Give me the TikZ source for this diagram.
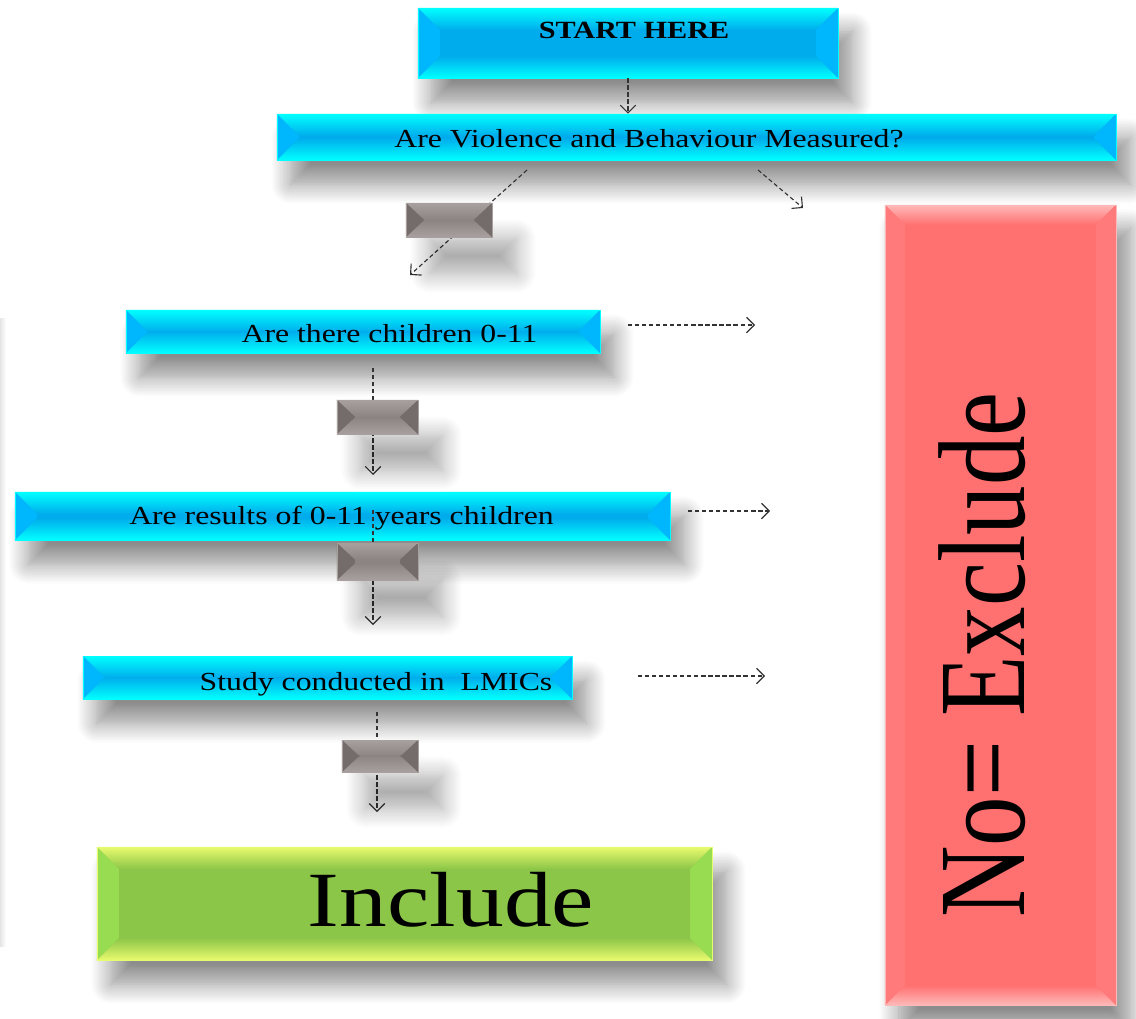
\documentclass[tikz,border=0pt]{standalone}
\usepackage{fontspec}
\setmainfont{Liberation Serif}[FakeStretch=1.22]
\newfontfamily\exfont{Liberation Serif}[FakeStretch=0.8]
\usetikzlibrary{calc,arrows.meta,shadows.blur}

\definecolor{cyanface}{RGB}{0,172,236}
\definecolor{cyanedge}{RGB}{0,255,255}
\definecolor{cyanside}{RGB}{0,182,252}
\definecolor{greenface}{RGB}{140,198,72}
\definecolor{greenedge}{RGB}{232,250,110}
\definecolor{greenside}{RGB}{152,220,82}
\definecolor{redface}{RGB}{255,112,112}
\definecolor{rededge}{RGB}{255,185,185}
\definecolor{redside}{RGB}{255,122,122}
\definecolor{greyface}{RGB}{140,132,130}
\definecolor{greyedge}{RGB}{168,160,158}
\definecolor{greyside}{RGB}{116,108,106}

\tikzset{
  bevel/.style n args={5}{fill=#1, path picture={
    \coordinate (bnw) at (path picture bounding box.north west);
    \coordinate (bne) at (path picture bounding box.north east);
    \coordinate (bsw) at (path picture bounding box.south west);
    \coordinate (bse) at (path picture bounding box.south east);
    \shade[top color=#2, bottom color=#1] (bnw) -- (bne) -- ($(bne)+(-#4,-#5)$) -- ($(bnw)+(#4,-#5)$) -- cycle;
    \shade[bottom color=#2, top color=#1] (bsw) -- (bse) -- ($(bse)+(-#4,#5)$) -- ($(bsw)+(#4,#5)$) -- cycle;
    \fill[#3] (bnw) -- (bsw) -- ($(bsw)+(#4,#5)$) -- ($(bnw)+(#4,-#5)$) -- cycle;
    \fill[#3] (bne) -- (bse) -- ($(bse)+(-#4,#5)$) -- ($(bne)+(-#4,-#5)$) -- cycle;
  }},
  box/.style={rectangle, inner sep=0pt, line width=.4pt,
    blur shadow={shadow xshift=.35cm, shadow yshift=-.6cm, shadow blur radius=.5cm,
      shadow blur steps=14, shadow opacity=45}},
  cyanbox/.style={box, draw=cyanedge, bevel={cyanface}{cyanedge}{cyanside}{.55cm}{.55cm}},
  greenbox/.style={box, draw=greenedge, bevel={greenface}{greenedge}{greenside}{.55cm}{.55cm}},
  redbox/.style={box, draw=rededge, bevel={redface}{rededge}{redside}{.5cm}{.5cm}},
  greybox/.style={rectangle, inner sep=0pt, draw=greyedge, line width=.4pt,
    bevel={greyface}{greyedge}{greyside}{.45cm}{.42cm},
    blur shadow={shadow xshift=.6cm, shadow yshift=-.9cm, shadow blur radius=.5cm,
      shadow blur steps=14, shadow opacity=35}},
  txt/.style={inner sep=0pt, text depth=0pt, font=\fontsize{18.5}{20}\selectfont},
  link/.style={black!80, line width=.8pt, dash pattern=on 3pt off 2pt,
    -{Straight Barb[length=5.5pt,width=11pt]}}
}

\begin{document}
\begin{tikzpicture}[x=0.025cm,y=-0.025cm]
\useasboundingbox (0,0) rectangle (1136,1018);
\shade[left color=black!10, right color=white] (0,318) rectangle (6,946);

% question boxes
\node[cyanbox, minimum width=10.5cm, minimum height=1.75cm] (start) at (628,43) {};
\node[cyanbox, minimum width=20.975cm, minimum height=1.15cm] (violence) at (696.5,137) {};
\node[cyanbox, minimum width=11.85cm, minimum height=1.075cm] (children) at (363,331.5) {};
\node[cyanbox, minimum width=16.375cm, minimum height=1.2cm] (results) at (342.5,516) {};
\node[cyanbox, minimum width=12.225cm, minimum height=1.075cm] (study) at (327.5,677.5) {};
\node[greenbox, minimum width=15.375cm, minimum height=2.825cm] (include) at (404.5,903.5) {};
\node[redbox, minimum width=5.775cm, minimum height=20cm] (exclude) at (1000.5,605) {};

% texts
\node[txt, font=\fontsize{17.6}{19}\selectfont\bfseries] (startlbl) at (634,30) {START HERE};
\node[txt] (violencelbl) at (649,138) {Are Violence and Behaviour Measured?};
\node[txt] (childrenlbl) at (389.5,333) {Are there children 0-11};
\node[txt] (resultslbl) at (341.5,515) {Are results of 0-11 years children};
\node[txt] (studylbl) at (376,681) {Study conducted in\ \ LMICs};
\node[txt, font=\fontsize{55.6}{58}\selectfont] (includelbl) at (451,899) {Include};
\node[inner sep=0pt, rotate=90, font=\exfont\fontsize{88}{90}\selectfont] (excludelbl) at (982,655) {No= Exclude};

% arrows
\coordinate (va) at (527,170);
\coordinate (vb) at (410,275);
\coordinate (vc) at (758,170);
\coordinate (vd) at (803,208);
\coordinate (ca) at (373,368);
\coordinate (cb) at (373,475);
\coordinate (ce) at (628,325);
\coordinate (cf) at (755,325);
\coordinate (ra) at (373,510);
\coordinate (rb) at (373,625);
\coordinate (re) at (688,511);
\coordinate (rf) at (770,511);
\coordinate (sa) at (377,712);
\coordinate (sb) at (377,812);
\coordinate (se) at (638,676);
\coordinate (sf) at (765,676);

\draw[link] (start.south) -- (start.south |- violence.north);
\draw[link] (va) -- (vb);
\draw[link] (vc) -- (vd);
\draw[link] (ca) -- (cb);
\draw[link] (ce) -- (cf);
\draw[link] (ra) -- (rb);
\draw[link] (re) -- (rf);
\draw[link] (sa) -- (sb);
\draw[link] (se) -- (sf);

% yes boxes on the arrows
\node[greybox, minimum width=2.15cm, minimum height=.85cm] (yes1) at (449,220) {};
\node[greybox, minimum width=2.025cm, minimum height=.85cm] (yes2) at (377.5,417) {};
\node[greybox, minimum width=2.025cm, minimum height=.925cm] (yes3) at (377.5,561.5) {};
\node[greybox, minimum width=1.9cm, minimum height=.8cm] (yes4) at (380,756) {};
\end{tikzpicture}
\end{document}
